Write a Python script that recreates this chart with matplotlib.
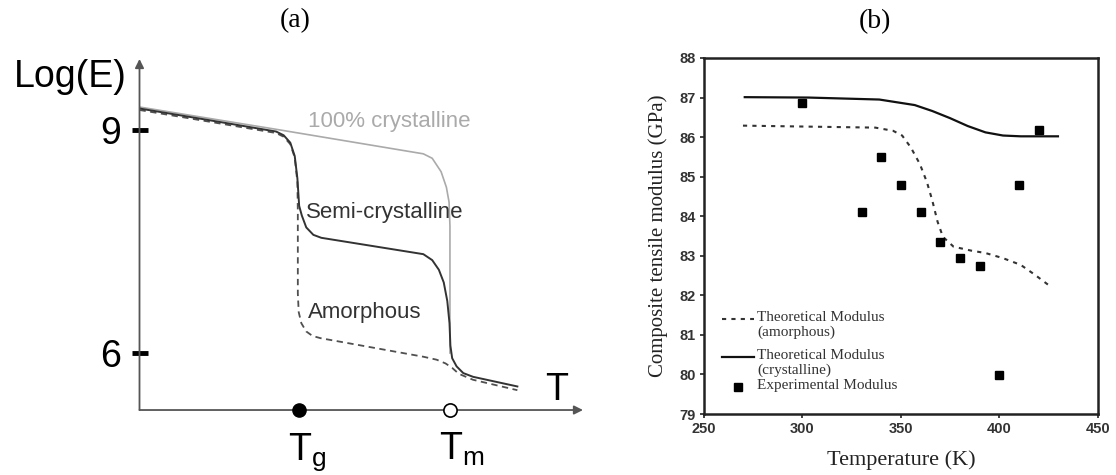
import matplotlib.pyplot as plt
import numpy as np

# ---- panel (a): schematic modulus vs temperature ----
Tg = 36
Tm = 70
cryst_T = [0, 30.8, 64, 66, 68, 69.2, 69.8, 70, 70, 70]
cryst_E = [9.31, 9.01, 8.68, 8.62, 8.44, 8.23, 8.03, 7.71, 6.5, 6.0]
semi_T = [0, 15, 30.8, 32.5, 34, 35, 35.6, 36, 36.6, 37.6, 39.2, 41, 64, 66, 67.5,
          68.6, 69.4, 69.9, 70.1, 70.5, 71.5, 73, 75.2, 85.2]
semi_E = [9.29, 9.14, 8.98, 8.93, 8.83, 8.65, 8.35, 7.98, 7.85, 7.69, 7.59, 7.55, 7.33,
          7.25, 7.12, 6.95, 6.7, 6.4, 6.1, 5.93, 5.82, 5.73, 5.68, 5.55]
amor_T = [0, 15, 30.8, 32.5, 34, 35, 35.6, 35.7, 35.7, 35.9, 36.5, 37.6, 39, 40.8, 64,
          67, 69, 70.5, 72, 75.2, 85.2]
amor_E = [9.27, 9.12, 8.96, 8.91, 8.81, 8.63, 8.3, 7.9, 6.8, 6.55, 6.4, 6.29, 6.23, 6.20,
          5.95, 5.91, 5.86, 5.8, 5.72, 5.64, 5.50]

# ---- panel (b): composite tensile modulus ----
cr_T = [270.7, 303, 339, 357, 365.9, 374.9, 383.9, 392.9, 401.8, 410.8, 429.7]
cr_E = [87.01, 87.0, 86.95, 86.81, 86.66, 86.48, 86.28, 86.12, 86.04, 86.02, 86.02]
am_T = [269.8, 337, 346, 350.6, 355, 359.6, 363.2, 365.9, 368.6, 371.3, 376.7, 385.7,
        392.9, 401.8, 410.8, 418, 425.2]
am_E = [86.29, 86.24, 86.16, 86.04, 85.74, 85.32, 84.86, 84.4, 83.86, 83.48, 83.23,
        83.13, 83.07, 82.94, 82.77, 82.52, 82.25]
exp_T = [300, 330, 340, 350, 360, 370, 380, 390, 400, 410, 420]
exp_E = [86.87, 84.11, 85.49, 84.80, 84.11, 83.36, 82.94, 82.73, 79.99, 84.80, 86.18]

sans = 'Liberation Sans'
serif = 'Liberation Serif'

fig = plt.figure(figsize=(11.16, 4.75), dpi=100)

# panel (a)
ax = fig.add_axes([0.125, 0.1368, 0.3974, 0.739])
ax.set_xlim(0, 100)
ax.set_ylim(5.233, 9.956)
for s in ax.spines.values():
    s.set_visible(False)

ax.plot(cryst_T, cryst_E, color='#aaaaaa', lw=1.2)
ax.plot(amor_T, amor_E, color='#505050', lw=1.3, dashes=(3.5, 2.5))
ax.plot(semi_T, semi_E, color='#333333', lw=1.4)

ax.annotate('', xy=(0, 9.956), xytext=(0, 5.233),
            arrowprops=dict(arrowstyle='-|>', color='#555555', lw=1.3, mutation_scale=13,
                            shrinkA=0, shrinkB=0), annotation_clip=False)
ax.annotate('', xy=(100, 5.233), xytext=(0, 5.233),
            arrowprops=dict(arrowstyle='-|>', color='#555555', lw=1.3, mutation_scale=13,
                            shrinkA=0, shrinkB=0), annotation_clip=False)

ax.set_yticks([6, 9])
ax.set_yticklabels(['6', '9'], fontsize=27, family=sans)
ax.tick_params(axis='y', direction='inout', length=12, width=3.5, color='black', pad=7)
ax.set_xticks([])

ax.plot([Tg], [5.233], 'o', color='black', ms=9.5, clip_on=False, zorder=5)
ax.plot([Tm], [5.233], 'o', mfc='white', mec='black', mew=1.2, ms=9.5, clip_on=False, zorder=5)
for xv, lab in [(Tg, r'T$_\mathregular{g}$'), (Tm, r'T$_\mathregular{m}$')]:
    ax.annotate(lab, xy=(xv, 5.233), xytext=(-8, -36), textcoords='offset points',
                ha='left', va='baseline', fontsize=27, family=sans, annotation_clip=False)

ax.text(38, 9.11, '100% crystalline', color='#aaaaaa', fontsize=16, family=sans, va='center')
ax.text(37.6, 7.89, 'Semi-crystalline', color='#333333', fontsize=16, family=sans, va='center')
ax.text(38, 6.54, 'Amorphous', color='#333333', fontsize=16, family=sans, va='center')

fig.text(127 / 1116, 1 - 87 / 475, 'Log(E)', ha='right', va='baseline', fontsize=27, family=sans)
fig.text(545 / 1116, 1 - 400 / 475, 'T', ha='left', va='baseline', fontsize=27, family=sans)

# panel (b)
bx = fig.add_axes([0.6308, 0.1284, 0.3530, 0.7495])
bx.plot(cr_T, cr_E, color='#111111', lw=1.6)
bx.plot(am_T, am_E, color='#333333', lw=1.5, dashes=(2, 2.5))
bx.plot(exp_T, exp_E, 's', color='black', ms=5.5, ls='none')
bx.set_xlim(250, 450)
bx.set_ylim(79, 88)
bx.set_xticks([250, 300, 350, 400, 450])
bx.set_yticks(range(79, 89))
for s in bx.spines.values():
    s.set_linewidth(1.8)
    s.set_color('#222222')
bx.tick_params(direction='out', length=3, width=1.2, color='#222222', labelsize=10.5,
               labelcolor='#333333', pad=3)
for lab in bx.get_xticklabels() + bx.get_yticklabels():
    lab.set_fontweight('bold')
    lab.set_family(sans)
bx.set_xlabel('Temperature (K)', fontsize=16, family=serif, color='#222222', labelpad=10)
bx.set_ylabel('Composite tensile modulus (GPa)', fontsize=15, family=serif, color='#222222',
              labelpad=8)

# key
leg_c = '#333333'
bx.plot([0.045, 0.126], [0.267, 0.267], transform=bx.transAxes, color='#333333', lw=1.5,
        dashes=(2, 2.5))
bx.plot([0.045, 0.126], [0.160, 0.160], transform=bx.transAxes, color='#111111', lw=1.6)
bx.plot([0.086], [0.076], 's', transform=bx.transAxes, color='black', ms=5.5)
key_lines = [(0.270, 'Theoretical Modulus'), (0.231, '(amorphous)'),
             (0.163, 'Theoretical Modulus'), (0.124, '(crystalline)'),
             (0.079, 'Experimental Modulus')]
for yk, txt in key_lines:
    bx.text(0.135, yk, txt, transform=bx.transAxes, ha='left', va='center',
            fontsize=11, family=serif, color=leg_c)

fig.text(295 / 1116, 1 - 21 / 475, '(a)', ha='center', va='center', fontsize=20, family=serif)
fig.text(875 / 1116, 1 - 22 / 475, '(b)', ha='center', va='center', fontsize=20, family=serif)

fig.savefig('out.png', dpi=100)
